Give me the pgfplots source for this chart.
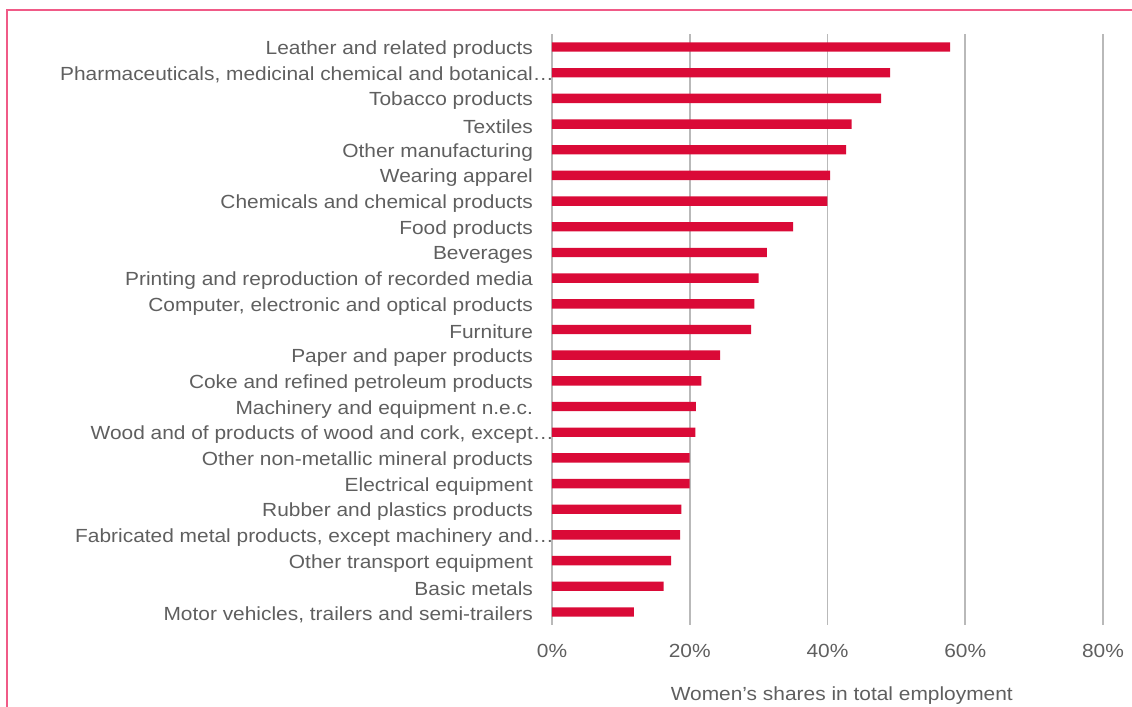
\documentclass[border=0pt]{standalone}
\usepackage{pgfplots}
\pgfplotsset{compat=1.18}
\usepackage{fontspec}
\setmainfont{Liberation Sans}[FakeStretch=1.1]

\definecolor{barred}{RGB}{218,10,55}
\definecolor{gridgray}{RGB}{185,185,185}
\definecolor{textgray}{RGB}{95,95,95}
\definecolor{framepink}{RGB}{240,90,135}

\begin{document}
\begin{tikzpicture}
\useasboundingbox (0,0) rectangle (566pt,353.5pt);
\draw[framepink, line width=1pt] (3.5pt,-5pt) |- (570pt,348.5pt);

\begin{axis}[
at={(276pt,41.1pt)}, anchor=south west,
scale only axis,
width=275.5pt, height=295.3pt,
xbar, bar width=4.7pt,
xmin=0, xmax=80,
xtick={0,20,40,60,80},
xticklabel={\pgfmathprintnumber{\tick}\%},
ymin=-0.5, ymax=22.5,
y dir=reverse,
ytick={0,...,22},
yticklabels={
Leather and related products,
{Pharmaceuticals, medicinal chemical and botanical\rlap{\ldots}},
Tobacco products,
Textiles,
Other manufacturing,
Wearing apparel,
Chemicals and chemical products,
Food products,
Beverages,
Printing and reproduction of recorded media,
{Computer, electronic and optical products},
Furniture,
Paper and paper products,
Coke and refined petroleum products,
Machinery and equipment n.e.c.,
{Wood and of products of wood and cork, except\rlap{\ldots}},
Other non-metallic mineral products,
Electrical equipment,
Rubber and plastics products,
{Fabricated metal products, except machinery and\rlap{\ldots}},
Other transport equipment,
Basic metals,
{Motor vehicles, trailers and semi-trailers}
},
major tick length=0pt,
axis line style={draw=none},
xmajorgrids,
grid style={gridgray, line width=0.9pt},
tick label style={font=\fontsize{9.5}{11}\selectfont, text=textgray},
/pgf/number format/assume math mode=true,
xticklabel style={yshift=-6pt},
yticklabel style={xshift=-6pt, yshift=-1.3pt},
xlabel={Women's shares in total employment},
xlabel style={at={(axis description cs:0.526,-0.12)}, anchor=center,
  font=\fontsize{9.5}{11}\selectfont, text=textgray},
]
\addplot [fill=barred, draw=none] coordinates {
(57.8,0) (49.1,1) (47.8,2) (43.5,3) (42.7,4) (40.4,5) (40.0,6)
(35.0,7) (31.2,8) (30.0,9) (29.4,10) (28.9,11) (24.4,12) (21.7,13)
(20.9,14) (20.8,15) (20.0,16) (20.0,17) (18.8,18) (18.6,19)
(17.3,20) (16.2,21) (11.9,22)
};
\end{axis}
\end{tikzpicture}
\end{document}
